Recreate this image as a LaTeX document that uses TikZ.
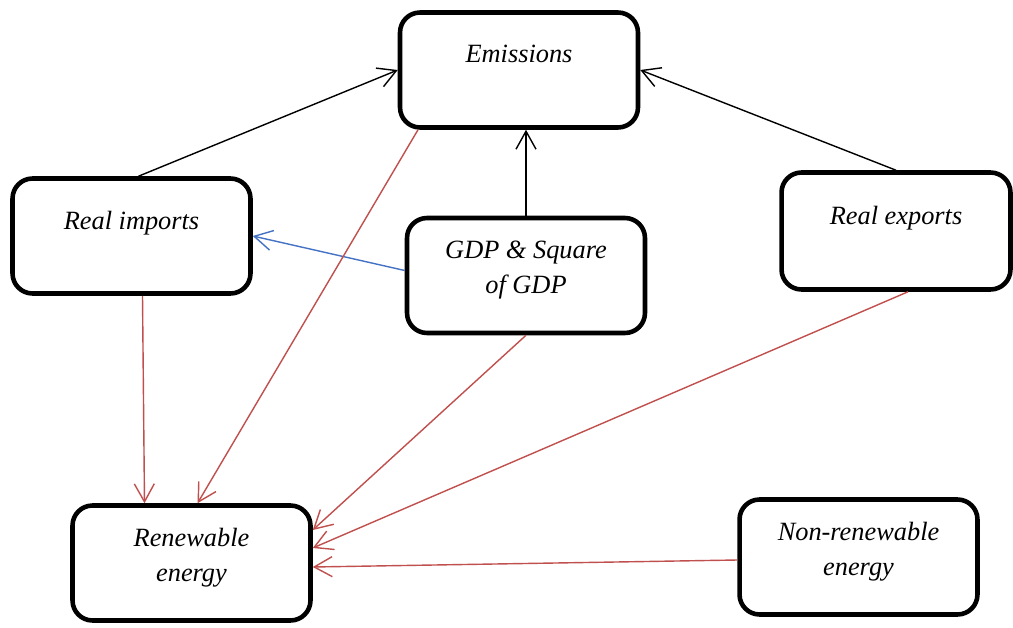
\documentclass[tikz,border=0pt]{standalone}
\usepackage{fontspec}
\setmainfont{Liberation Serif}
\usetikzlibrary{arrows.meta,calc}
\definecolor{linkred}{RGB}{192,80,77}
\definecolor{linkblue}{RGB}{68,114,196}
\begin{document}
\begin{tikzpicture}[x=0.02cm, y=-0.02cm,
  box/.style={draw, line width=2.6pt, rounded corners=0.4cm, minimum width=4.76cm,
    minimum height=2.3cm, align=center, inner sep=0pt,
    font=\fontsize{15}{19.8}\selectfont\itshape},
  oneline/.style={text height=0.4cm, text depth=0.68cm},
  twoline/.style={text depth=0.32cm},
  link/.style={-{Straight Barb[length=0.36cm,width=0.4cm]}, line width=0.8pt}]
\useasboundingbox (0,0) rectangle (1013,628);
% Boxes
\node[box, oneline] (emis) at (519,70) {Emissions};
\node[box, oneline] (imp) at (131.5,236) {Real imports};
\node[box, twoline] (gdp) at (526,275.5) {GDP \& Square\\of GDP};
\node[box, oneline, minimum width=4.58cm, minimum height=2.34cm] (exp) at (896,231) {Real exports};
\node[box, twoline] (ren) at (191.5,563) {Renewable\\energy};
\node[box, twoline] (non) at (858.5,557) {Non-renewable\\energy};
% Arrows into Emissions
\draw[link] ($(imp.north)+(7,0)$) -- (emis.west);
\draw[link] (gdp.north) -- (gdp.north |- emis.south);
\draw[link] (exp.north) -- (emis.east);
% GDP to imports
\draw[link, linkblue] ($(gdp.west)+(0,-5)$) -- (imp.east);
% Arrows into Renewable energy
\draw[link, linkred] ($(imp.south)+(11,0)$) -- ($(ren.north)+(-47,0)$);
\draw[link, linkred] ($(emis.south)+(-101,0)$) -- ($(ren.north)+(6,0)$);
\draw[link, linkred] (gdp.south) -- ($(ren.east)+(0,-33)$);
\draw[link, linkred] ($(exp.south)+(12,0)$) -- ($(ren.east)+(0,-15)$);
\draw[link, linkred] ($(non.west)+(0,3)$) -- ($(ren.east)+(0,4)$);
\end{tikzpicture}
\end{document}
